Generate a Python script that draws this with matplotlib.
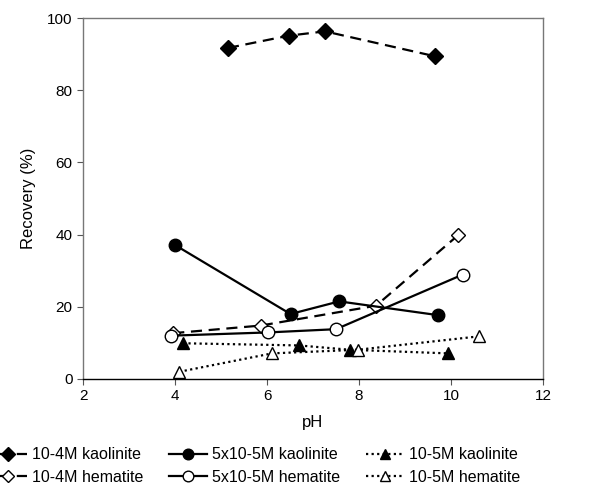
import matplotlib
matplotlib.use("Agg")
import matplotlib.pyplot as plt

plt.rcParams['font.family'] = ['Liberation Sans', 'DejaVu Sans']

# Data
ph_k4 = [5.15, 6.47, 7.26, 9.65]
rec_k4 = [91.7, 95.1, 96.3, 89.4]

ph_h4 = [3.96, 5.86, 8.37, 10.16]
rec_h4 = [12.7, 14.8, 20.3, 39.9]

ph_k55 = [4.0, 6.51, 7.57, 9.71]
rec_k55 = [37.1, 18.0, 21.5, 17.7]

ph_h55 = [3.91, 6.02, 7.5, 10.25]
rec_h55 = [12.0, 12.9, 13.8, 28.9]

ph_k5 = [4.17, 6.69, 7.8, 9.93]
rec_k5 = [9.9, 9.3, 8.1, 7.1]

ph_h5 = [4.09, 6.11, 7.97, 10.6]
rec_h5 = [2.0, 7.1, 8.1, 11.8]

labels = ["10-4M kaolinite", "10-4M hematite",
          "5x10-5M kaolinite", "5x10-5M hematite",
          "10-5M kaolinite", "10-5M hematite"]

xticks = [2, 4, 6, 8, 10, 12]
yticks = [0, 20, 40, 60, 80, 100]

fig = plt.figure(figsize=(6.02, 5.0), dpi=100)
ax = fig.add_axes([0.138, 0.242, 0.764, 0.722])

lw = 1.6
dash = (0, (5, 3))
dot = (0, (1, 1.5))
ax.plot(ph_k4, rec_k4, color='black', lw=lw, ls=dash, marker='D', ms=8,
        mfc='black', mec='black', label=labels[0])
ax.plot(ph_h4, rec_h4, color='black', lw=lw, ls=dash, marker='D', ms=7,
        mfc='white', mec='black', mew=1.0, label=labels[1])
ax.plot(ph_k55, rec_k55, color='black', lw=lw, ls='-', marker='o', ms=9,
        mfc='black', mec='black', label=labels[2])
ax.plot(ph_h55, rec_h55, color='black', lw=lw, ls='-', marker='o', ms=9,
        mfc='white', mec='black', mew=1.0, label=labels[3])
ax.plot(ph_k5, rec_k5, color='black', lw=lw, ls=dot, marker='^', ms=8,
        mfc='black', mec='black', label=labels[4])
ax.plot(ph_h5, rec_h5, color='black', lw=lw, ls=dot, marker='^', ms=8,
        mfc='white', mec='black', mew=1.0, label=labels[5])

ax.set_xlim(2, 12)
ax.set_ylim(0, 100)
ax.set_xticks(xticks)
ax.set_yticks(yticks)
ax.tick_params(labelsize=11, direction='out', length=4, color='#555555')
for s in ax.spines.values():
    s.set_color('#777777')
    s.set_linewidth(1.0)
ax.spines['bottom'].set_color('black')
ax.set_xlabel('pH', fontsize=12, labelpad=8)
ax.set_ylabel('Recovery (%)', fontsize=12, labelpad=8)

fig.legend(loc='center left', bbox_to_anchor=(-0.042, 0.068), ncol=3,
           frameon=False, fontsize=11.5, handlelength=2.4, columnspacing=1.6,
           handletextpad=0.3, labelspacing=0.45, markerscale=0.85)

fig.savefig('out.png', dpi=100)
